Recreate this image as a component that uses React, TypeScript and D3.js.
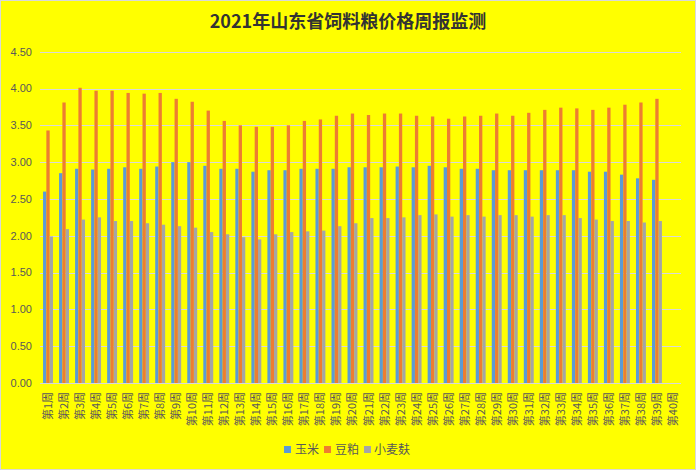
import React from "react";
import * as d3 from "d3";

const weeks: string[] = Array.from({ length: 40 }, (_, i) => `第${i + 1}周`);
const seriesNames = ["玉米", "豆粕", "小麦麸"];
const corn: (number | null)[] = [
  2.6, 2.85, 2.91, 2.9, 2.91, 2.93, 2.91, 2.94, 3.0, 3.0,
  2.95, 2.91, 2.91, 2.87, 2.89, 2.89, 2.91, 2.91, 2.91, 2.93,
  2.93, 2.93, 2.94, 2.93, 2.95, 2.93, 2.91, 2.91, 2.89, 2.89,
  2.89, 2.89, 2.89, 2.89, 2.87, 2.87, 2.83, 2.78, 2.76, null,
];
const soymeal: (number | null)[] = [
  3.43, 3.81, 4.01, 3.97, 3.97, 3.94, 3.93, 3.94, 3.86, 3.82,
  3.7, 3.56, 3.5, 3.48, 3.48, 3.5, 3.56, 3.58, 3.63, 3.66,
  3.64, 3.66, 3.66, 3.63, 3.62, 3.59, 3.62, 3.63, 3.66, 3.63,
  3.67, 3.71, 3.74, 3.73, 3.71, 3.74, 3.78, 3.81, 3.86, null,
];
const bran: (number | null)[] = [
  1.99, 2.09, 2.22, 2.25, 2.2, 2.2, 2.17, 2.15, 2.13, 2.11,
  2.05, 2.02, 1.98, 1.95, 2.02, 2.05, 2.06, 2.07, 2.13, 2.17,
  2.24, 2.24, 2.25, 2.28, 2.29, 2.26, 2.28, 2.26, 2.28, 2.28,
  2.26, 2.28, 2.28, 2.24, 2.22, 2.2, 2.2, 2.18, 2.2, null,
];
const yTicks = [0, 0.5, 1, 1.5, 2, 2.5, 3, 3.5, 4, 4.5];
const colors = ["#5B9BD5", "#ED7D31", "#A5A5A5"];

const W = 696;
const H = 470;
const left = 40;
const right = 681;
const top = 51.7;
const bottom = 383;

export default function App() {
  const data = [corn, soymeal, bran];
  const x = d3.scaleBand<string>().domain(weeks).range([left, right]).paddingInner(0).paddingOuter(0);
  const xs = d3.scaleBand<string>().domain(seriesNames).range([0, x.bandwidth()]).paddingInner(0).paddingOuter(0.92);
  const y = d3.scaleLinear().domain([0, 4.5]).range([bottom, top]);
  const cjk = "'Noto Sans CJK SC', 'Noto Sans', sans-serif";
  const legendItems = [
    { sx: 284, tx: 295 },
    { sx: 324, tx: 335 },
    { sx: 364, tx: 374 },
  ];
  return (
    <svg width={W} height={H} style={{ position: "fixed", left: 0, top: 0 }}>
      <rect x={0} y={0} width={W} height={H} fill="#FFFF00" />
      <rect x={0.5} y={0.5} width={W - 1} height={H - 1} fill="none" stroke="#D9D9D9" />
      <text x={348} y={28} textAnchor="middle" fontFamily={cjk} fontWeight="bold" fontSize={18} fill="#333333">
        2021年山东省饲料粮价格周报监测
      </text>
      {yTicks.map((t) => (
        <g key={t}>
          <line x1={left} x2={right} y1={Math.round(y(t)) + 0.5} y2={Math.round(y(t)) + 0.5} stroke="#D9D9D9" strokeWidth={1} />
          <text x={32} y={y(t)} dy="0.35em" textAnchor="end" fontFamily="'Liberation Sans', Arial, sans-serif" fontSize={11} fill="#595959">
            {t.toFixed(2)}
          </text>
        </g>
      ))}
      {data.map((s, si) => (
        <g key={si} fill={colors[si]}>
          {s.map((v, i) =>
            v == null ? null : (
              <rect
                key={i}
                x={(x(weeks[i]) as number) + (xs(seriesNames[si]) as number)}
                y={y(v)}
                width={xs.bandwidth()}
                height={y(0) - y(v)}
              />
            )
          )}
        </g>
      ))}
      {weeks.map((w) => {
        const cx = (x(w) as number) + x.bandwidth() / 2;
        return (
          <text
            key={w}
            transform={`translate(${cx + 4},${392}) rotate(-90)`}
            textAnchor="end"
            fontFamily={cjk}
            fontSize={11}
            fill="#595959"
          >
            {w}
          </text>
        );
      })}
      {seriesNames.map((n, i) => (
        <g key={n}>
          <rect x={legendItems[i].sx} y={446} width={7} height={7} fill={colors[i]} />
          <text x={legendItems[i].tx} y={450} dy="0.35em" fontFamily={cjk} fontSize={12} fill="#595959">
            {n}
          </text>
        </g>
      ))}
    </svg>
  );
}
